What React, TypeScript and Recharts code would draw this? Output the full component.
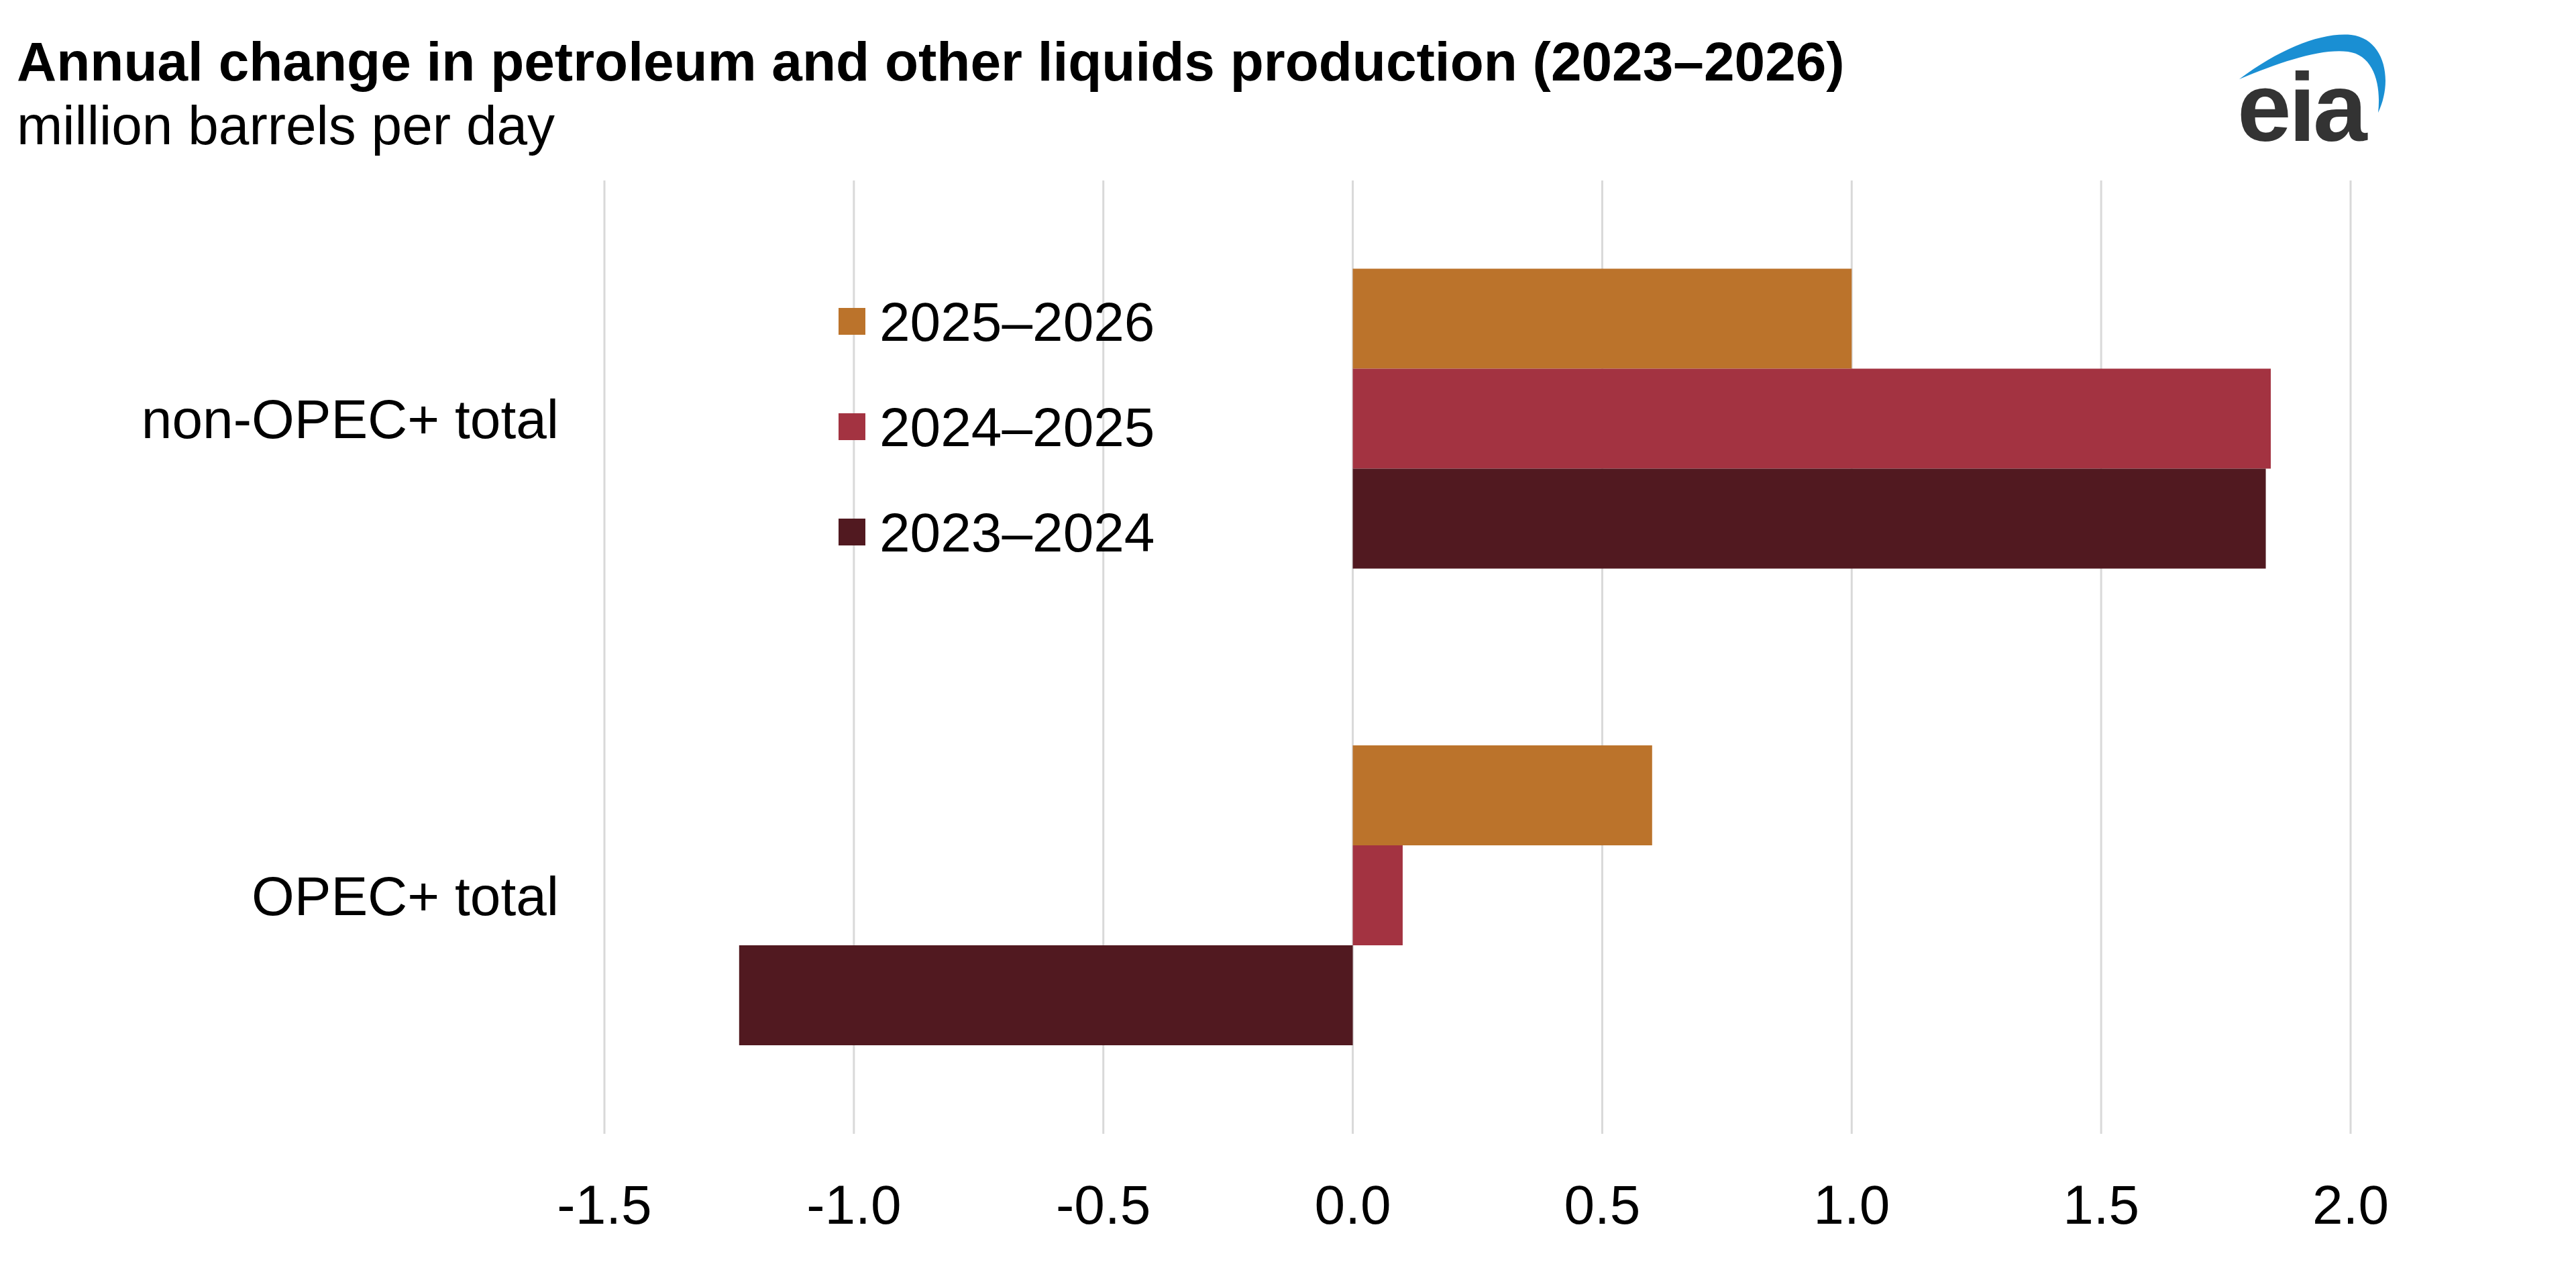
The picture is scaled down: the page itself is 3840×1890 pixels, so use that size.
import { Bar, BarChart, CartesianGrid, XAxis, YAxis } from "recharts";

// Values (million barrels per day).
const categories = ["non-OPEC+ total", "OPEC+ total"];
const change2025to2026 = [1.0, 0.6];
const change2024to2025 = [1.84, 0.1];
const change2023to2024 = [1.83, -1.23];
const xTicks = [-1.5, -1.0, -0.5, 0.0, 0.5, 1.0, 1.5, 2.0];

const SERIES = [
  { key: "s2526", name: "2025–2026", color: "#bb732b", values: change2025to2026 },
  { key: "s2425", name: "2024–2025", color: "#a33341", values: change2024to2025 },
  { key: "s2324", name: "2023–2024", color: "#511920", values: change2023to2024 },
];

const rows = categories.map((name, i) => {
  const row: Record<string, string | number> = { name };
  SERIES.forEach((s) => (row[s.key] = s.values[i]));
  return row;
});

const FONT = '"Liberation Sans", Arial, Helvetica, sans-serif';
const TICK = { fontSize: 82, fill: "#000", fontFamily: FONT } as const;

const W = 3840;
const H = 1890;

export default function App() {
  return (
    <div style={{ position: "absolute", left: 0, top: 0, width: W, height: H, background: "#fff" }}>
      <BarChart
        width={W}
        height={H}
        layout="vertical"
        data={rows}
        margin={{ top: 269, right: 336, bottom: 0, left: 41 }}
        barCategoryGap="18.5%"
        barGap={0}
      >
        <CartesianGrid horizontal={false} stroke="#d9d9d9" strokeWidth={3} />
        <XAxis
          type="number"
          domain={[-1.5, 2]}
          ticks={xTicks}
          tickFormatter={(v: number) => v.toFixed(1)}
          axisLine={false}
          tickLine={false}
          tickSize={0}
          tickMargin={76}
          tick={TICK}
          interval={0}
          height={200}
        />
        <YAxis
          type="category"
          dataKey="name"
          width={860}
          axisLine={false}
          tickLine={false}
          tickSize={0}
          tickMargin={68}
          tick={TICK}
        />
        {SERIES.map((s) => (
          <Bar key={s.key} dataKey={s.key} name={s.name} fill={s.color} isAnimationActive={false} />
        ))}
      </BarChart>

      <svg width={W} height={H} style={{ position: "absolute", left: 0, top: 0, pointerEvents: "none" }}>
        <text x={25} y={120} fontFamily={FONT} fontSize={82} fontWeight={700} fill="#000">
          Annual change in petroleum and other liquids production (2023–2026)
        </text>
        <text x={25} y={215} fontFamily={FONT} fontSize={82} fill="#000">
          million barrels per day
        </text>

        {/* legend */}
        {SERIES.map((s, i) => {
          const cy = 479 + i * 157;
          return (
            <g key={s.key}>
              <rect x={1250} y={cy - 20} width={40} height={40} fill={s.color} />
              <text x={1311} y={cy + 29} fontFamily={FONT} fontSize={82} fill="#000">
                {s.name}
              </text>
            </g>
          );
        })}

        {/* eia logo */}
        <path
          d="M3338,118 C3400,72 3460,48 3505,52 C3555,58 3568,120 3545,168 C3550,125 3538,82 3500,77 C3460,72 3400,92 3338,118 Z"
          fill="#1a8fd3"
        />
        <text x={3335} y={210} fontFamily={FONT} fontSize={145} fontWeight={700} fill="#333" letterSpacing={-4}>
          eia
        </text>
      </svg>
    </div>
  );
}
